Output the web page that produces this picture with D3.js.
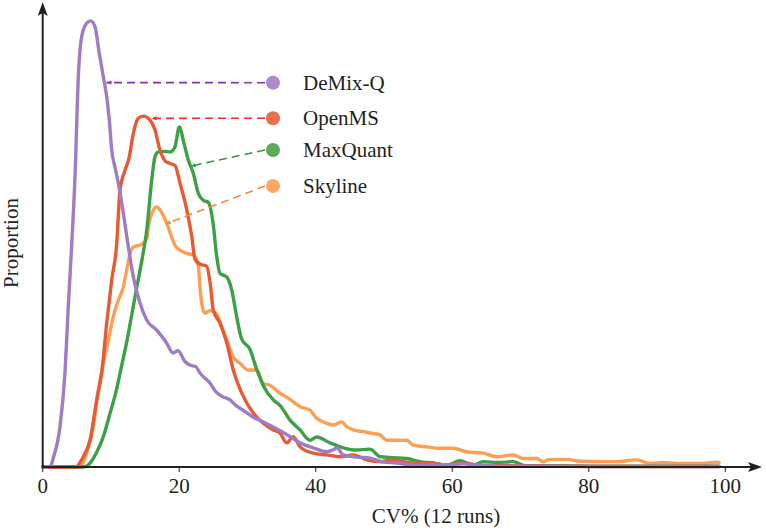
<!DOCTYPE html>
<html lang="en">
  <head>
    <meta charset="utf-8">
    <title>CV% distribution</title>
    <style>
      body { margin: 0; background: #fff; }
      svg { display: block; font-family: "Liberation Serif", "Times New Roman", serif; }
    </style>
  </head>
  <body>
    <svg></svg>
    <script src="https://d3js.org/d3.v7.min.js"></script>
    <script>

      // ---- data ----
      const names = ["DeMix-Q", "OpenMS", "MaxQuant", "Skyline"]
      const cvTicks = [0, 20, 40, 60, 80, 100]

      const demixCV = [0, 1.07, 1.55, 2.53, 3.26, 3.75, 4.25, 4.73, 5.22, 5.71, 6.45, 7.03, 7.66, 8.29, 8.88, 9.38, 9.76, 10.11, 10.6, 11.08, 11.81, 12.54, 13.27, 14.25, 15.24, 16.7, 18.17, 19.09, 19.82, 20.84, 21.57, 22.46, 23.05, 24.5, 25.39, 26.27, 27.44, 28.3, 29.35, 30.8, 32.27, 33.7, 35.8, 37.7, 39.6, 41.65, 42.5, 43.1, 44.0, 46.05, 48.0, 49.86, 51.9, 54.25, 56.7, 59.2, 61.6, 64.1, 67, 74.3, 81.6, 89, 96.3, 99.1]
      const demixP  = [0, 0, 0.2, 0.9, 2.1, 3.59, 4.97, 6.49, 8.73, 9.63, 9.93, 9.98, 9.85, 9.25, 8.73, 8.28, 7.76, 7.09, 6.7, 6.35, 5.68, 4.93, 4.26, 3.67, 3.29, 3.06, 2.77, 2.55, 2.6, 2.36, 2.28, 2.24, 2.1, 1.88, 1.68, 1.58, 1.5, 1.38, 1.27, 1.12, 1.01, 0.9, 0.72, 0.54, 0.43, 0.34, 0.38, 0.43, 0.27, 0.22, 0.2, 0.11, 0.09, 0.04, 0.04, 0.04, 0.07, 0.04, 0.02, 0.02, 0.01, 0.01, 0.01, 0.01]

      const openmsCV = [0, 4.98, 5.46, 5.95, 6.93, 7.91, 8.64, 9.38, 10.11, 10.84, 11.32, 12.06, 12.69, 13.27, 14.0, 14.74, 15.72, 16.45, 17.18, 17.92, 18.65, 19.38, 20.11, 21.1, 21.83, 22.31, 23.05, 24.03, 24.51, 24.99, 25.97, 26.96, 27.92, 29.39, 30.85, 32.32, 33.78, 34.76, 35.75, 36.71, 37.7, 39.64, 41.6, 43.55, 45.46, 47.47, 49.4, 51.3, 54.25, 56.7, 59.2, 61.6, 64.1, 67, 74.3, 81.6, 89, 96.3, 99.1]
      const openmsP  = [0, 0, 0.1, 0.23, 0.6, 1.5, 2.1, 3.22, 4.18, 4.99, 6.18, 6.64, 6.94, 7.46, 7.8, 7.85, 7.76, 7.54, 7.09, 6.85, 6.79, 6.75, 6.35, 5.76, 5.16, 4.65, 4.54, 4.49, 4.14, 3.51, 3.22, 2.78, 2.17, 1.58, 1.21, 0.98, 0.83, 0.76, 0.54, 0.68, 0.45, 0.31, 0.27, 0.23, 0.27, 0.16, 0.12, 0.16, 0.09, 0.09, 0.04, 0.09, 0.04, 0.03, 0.02, 0.01, 0.01, 0.01, 0.01]

      const maxquantCV = [0, 5.95, 6.45, 7.91, 8.88, 9.86, 10.84, 11.57, 12.31, 13.04, 13.77, 14.5, 15.24, 15.97, 16.45, 16.93, 17.92, 18.65, 19.38, 20.01, 20.7, 21.33, 22.06, 22.8, 23.53, 24.26, 24.99, 25.49, 25.97, 26.96, 27.69, 28.42, 29.15, 30.37, 31.34, 32.32, 33.78, 34.76, 36.23, 37.7, 39.16, 40.14, 42.09, 44.04, 45.99, 47.94, 49.41, 51.36, 53.32, 55.27, 57.22, 59.18, 61.13, 63.04, 64.5, 66.7, 68.9, 70.7, 75.8, 81.6, 89, 99.1]
      const maxquantP  = [0, 0, 0.02, 0.33, 0.68, 1.2, 1.75, 2.27, 2.8, 3.4, 4.01, 4.6, 5.3, 6.42, 6.94, 7.05, 7.06, 7.05, 7.16, 7.61, 7.24, 6.87, 6.57, 6.12, 5.97, 5.92, 5.42, 4.71, 4.33, 4.25, 3.96, 3.36, 2.86, 2.63, 2.19, 1.82, 1.5, 1.38, 1.05, 0.83, 0.6, 0.67, 0.54, 0.43, 0.38, 0.4, 0.23, 0.21, 0.19, 0.12, 0.09, 0.04, 0.14, 0.04, 0.12, 0.1, 0.12, 0.03, 0.03, 0.02, 0.02, 0.02]

      const skylineCV = [0, 5.46, 6.45, 7.41, 8.15, 8.88, 9.61, 10.34, 11.08, 11.81, 12.31, 12.79, 13.27, 14.5, 15.24, 15.48, 15.97, 16.7, 17.18, 18.17, 18.65, 19.38, 20.11, 21.1, 22.06, 22.8, 23.05, 23.29, 23.78, 24.51, 25.49, 26.22, 26.96, 27.92, 28.9, 30.12, 31.35, 32.32, 33.3, 34.76, 35.98, 37.7, 39.16, 40.14, 41.1, 42.57, 43.8, 44.53, 45.5, 46.97, 48.43, 49.41, 50.39, 51.86, 53.32, 54.29, 56.26, 58.2, 60.15, 62.11, 64.55, 66.51, 68.94, 70.41, 72.37, 73.34, 74.32, 76.77, 78.72, 82.13, 84.09, 87.02, 89.0, 90.92, 92.88, 96.78, 98.74, 99.1]
      const skylineP  = [0, 0, 0.31, 0.9, 1.72, 2.32, 2.84, 3.36, 3.73, 4.03, 4.41, 4.77, 4.92, 4.98, 5.1, 5.37, 5.67, 5.82, 5.75, 5.45, 5.25, 4.96, 4.85, 4.78, 4.74, 4.5, 4.0, 3.66, 3.44, 3.5, 3.42, 3.13, 2.85, 2.46, 2.32, 2.17, 2.17, 1.87, 1.83, 1.65, 1.54, 1.35, 1.27, 1.09, 1.01, 0.94, 1.01, 0.9, 0.83, 0.79, 0.75, 0.72, 0.6, 0.6, 0.6, 0.49, 0.45, 0.42, 0.42, 0.34, 0.31, 0.23, 0.27, 0.19, 0.19, 0.12, 0.17, 0.17, 0.13, 0.12, 0.12, 0.16, 0.08, 0.1, 0.08, 0.08, 0.11, 0.1]

      // where each legend pointer lands on its curve (cv, proportion)
      const pointerCV = [9.35, 15.97, 21.68, 18.06]
      const pointerP  = [8.6, 7.8, 6.73, 5.44]

      // ---- styles ----
      const lineColor  = ["#a07cc4", "#e85a32", "#3da046", "#fd9f52"]
      const dotColor   = ["#ab8cc8", "#e8704e", "#5eaa5c", "#fca766"]
      const dashColor  = ["#8f2da8", "#e2342c", "#2a9a42", "#f5893a"]

      const W = 766, H = 530
      const x = d3.scaleLinear().domain([0, 100]).range([42.7, 725.3])
      const y = d3.scaleLinear().domain([0, 10]).range([467, 20])

      const svg = d3.select("svg").attr("width", W).attr("height", H)

      const defs = svg.append("defs")
      dashColor.forEach(function(c, i) {
        defs.append("marker")
            .attr("id", "arr" + i)
            .attr("viewBox", "0 0 10 10")
            .attr("refX", 10).attr("refY", 5)
            .attr("markerWidth", 5).attr("markerHeight", 5)
            .attr("orient", "auto")
            .attr("markerUnits", "userSpaceOnUse")
          .append("path")
            .attr("d", "M0,1 L10,5 L0,9 Z")
            .attr("fill", c)
      })

      // curves (drawn back to front)
      const curveData = [
        d3.zip(demixCV, demixP),
        d3.zip(openmsCV, openmsP),
        d3.zip(maxquantCV, maxquantP),
        d3.zip(skylineCV, skylineP)
      ]
      const line = d3.line()
          .x(function(d) { return x(d[0]) })
          .y(function(d) { return y(d[1]) })
          .curve(d3.curveMonotoneX)

      ;[3, 2, 1, 0].forEach(function(i) {
        svg.append("path")
            .attr("d", line(curveData[i]))
            .attr("fill", "none")
            .attr("stroke", lineColor[i])
            .attr("stroke-width", 3.4)
            .attr("stroke-linejoin", "round")
            .attr("stroke-linecap", "round")
      })

      // axes
      const axisCol = "#231f20"
      svg.append("line")
          .attr("x1", x(0)).attr("x2", 752)
          .attr("y1", y(0)).attr("y2", y(0))
          .attr("stroke", axisCol).attr("stroke-width", 2)
      svg.append("path")
          .attr("d", "M762," + y(0) + " L748," + (y(0) - 5) + " L751," + y(0) + " L748," + (y(0) + 5) + " Z")
          .attr("fill", axisCol)
      svg.append("line")
          .attr("x1", x(0)).attr("x2", x(0))
          .attr("y1", y(0)).attr("y2", 12)
          .attr("stroke", axisCol).attr("stroke-width", 2)
      svg.append("path")
          .attr("d", "M" + x(0) + ",2 L" + (x(0) - 5) + ",16 L" + x(0) + ",13 L" + (x(0) + 5) + ",16 Z")
          .attr("fill", axisCol)

      const ticks = svg.append("g")
      ticks.selectAll("line").data(cvTicks).enter().append("line")
          .attr("x1", function(d) { return x(d) }).attr("x2", function(d) { return x(d) })
          .attr("y1", y(0)).attr("y2", y(0) + 5)
          .attr("stroke", axisCol).attr("stroke-width", 1)
      ticks.selectAll("text").data(cvTicks).enter().append("text")
          .attr("x", function(d) { return x(d) })
          .attr("y", 493)
          .attr("text-anchor", "middle")
          .attr("font-size", 21)
          .attr("fill", "#231f20")
          .text(function(d) { return d })

      svg.append("text")
          .attr("x", 436).attr("y", 523)
          .attr("text-anchor", "middle")
          .attr("font-size", 21)
          .attr("fill", "#231f20")
          .text("CV% (12 runs)")

      svg.append("text")
          .attr("transform", "translate(18,243) rotate(-90)")
          .attr("text-anchor", "middle")
          .attr("font-size", 21)
          .attr("fill", "#231f20")
          .text("Proportion")

      // legend with pointers
      const legY = [82.7, 118.3, 150, 186]
      const legX = 273
      names.forEach(function(n, i) {
        svg.append("line")
            .attr("x1", legX - 8).attr("y1", legY[i])
            .attr("x2", x(pointerCV[i])).attr("y2", y(pointerP[i]))
            .attr("stroke", dashColor[i])
            .attr("stroke-width", 1.6)
            .attr("stroke-dasharray", "8,5")
            .attr("marker-end", "url(#arr" + i + ")")
        svg.append("circle")
            .attr("cx", legX).attr("cy", legY[i]).attr("r", 7)
            .attr("fill", dotColor[i])
        svg.append("text")
            .attr("x", 303).attr("y", legY[i] + 7)
            .attr("font-size", 21)
            .attr("fill", "#231f20")
            .text(n)
      })
    </script>
  </body>
</html>
